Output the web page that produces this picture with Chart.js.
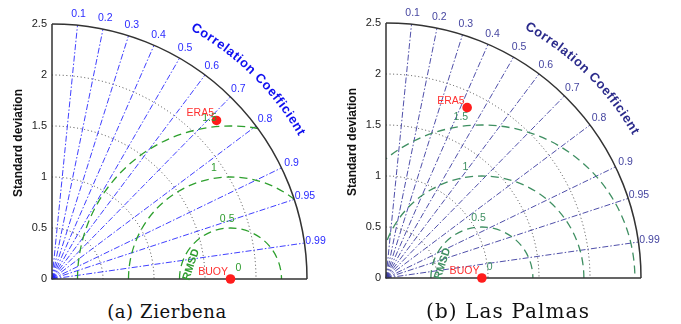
<!DOCTYPE html>
<html>
<head>
<meta charset="utf-8">
<script src="https://cdn.jsdelivr.net/npm/chart.js@4.4.1/dist/chart.umd.min.js"></script>
<style>
  html, body { margin: 0; padding: 0; background: #fff; width: 681px; height: 324px; overflow: hidden; }
  .panel { position: absolute; }
  .cap {
    position: absolute; line-height: 22px;
    font-family: "DejaVu Serif", serif;
    color: #111; white-space: nowrap; transform: translateX(-50%);
  }
  #capA { left: 167px; top: 301px; font-size: 18px; letter-spacing: 0.6px; }
  #capB { left: 508px; top: 300px; font-size: 20px; letter-spacing: 1.1px; }
</style>
</head>
<body>
<div class="panel" style="left:0px;top:0px"><canvas id="zierbena" width="340" height="295"></canvas></div>
<div class="panel" style="left:334px;top:-1px"><canvas id="lasPalmas" width="340" height="295"></canvas></div>
<div class="cap" id="capA"></div>
<div class="cap" id="capB"></div>

<script>
// Taylor diagram inputs: standard deviation and correlation of each source vs. the buoy
const sourceNames = ['BUOY', 'ERA5'];
const zierbenaStd = [1.75, 2.24];
const zierbenaCorr = [1.0, 0.72];
const lasPalmasStd = [0.94, 1.85];
const lasPalmasCorr = [1.0, 0.43];

// Axis / grid levels
const stdTicks = [0, 0.5, 1, 1.5, 2, 2.5];
const stdArcs = [0.5, 1, 1.5, 2];
const corrTicks = [0.1, 0.2, 0.3, 0.4, 0.5, 0.6, 0.7, 0.8, 0.9, 0.95, 0.99];
const rmsdLevels = [0, 0.5, 1, 1.5];
const captions = ['(a) Zierbena', '(b) Las Palmas'];
const STD_MAX = 2.5;

document.getElementById('capA').textContent = captions[0];
document.getElementById('capB').textContent = captions[1];

const SANS = '"Liberation Sans", Arial, sans-serif';

const themes = {
  zierbena: {
    corrLine: 'rgba(30,30,255,0.85)', corrText: '#2b2bff', corrTitle: '#1010f0',
    rmsd: '#2ea02e', rmsdText: '#2e9c2e'
  },
  lasPalmas: {
    corrLine: 'rgba(60,60,160,0.9)', corrText: '#4646a0', corrTitle: '#2c2c8c',
    rmsd: '#3f8f62', rmsdText: '#3f8f62'
  }
};

const rad = d => d * Math.PI / 180;

function polarToXY(std, corr) {
  return { x: std * corr, y: std * Math.sqrt(Math.max(0, 1 - corr * corr)) };
}

function geom(chart) {
  const xs = chart.scales.x, ys = chart.scales.y;
  const ox = xs.getPixelForValue(0), oy = ys.getPixelForValue(0);
  const ppu = (oy - ys.getPixelForValue(STD_MAX)) / STD_MAX;
  const px = (x, y) => [xs.getPixelForValue(x), ys.getPixelForValue(y)];
  return { ox, oy, ppu, R: STD_MAX * ppu, px };
}

// Text laid out letter by letter along an arc, first/last letter centres at a0/a1 (degrees)
function arcText(ctx, text, cx, cy, radius, a0, a1) {
  const chars = [...text];
  const widths = chars.map(ch => ctx.measureText(ch).width);
  const centres = [];
  let acc = 0;
  widths.forEach(w => { centres.push(acc + w / 2); acc += w; });
  const natural = centres[centres.length - 1] - centres[0];
  const target = rad(a0 - a1) * radius;
  const extra = (target - natural) / (chars.length - 1);
  chars.forEach((ch, i) => {
    const s = centres[i] - centres[0] + extra * i;
    const a = rad(a0) - s / radius;
    ctx.save();
    ctx.translate(cx + radius * Math.cos(a), cy - radius * Math.sin(a));
    ctx.rotate(Math.PI / 2 - a);
    ctx.fillText(ch, 0, 0);
    ctx.restore();
  });
}

const taylorGrid = {
  id: 'taylorGrid',
  beforeDatasetsDraw(chart, args, opts) {
    const t = opts.theme;
    const ref = opts.refStd;
    const { ctx } = chart;
    const { ox, oy, ppu, R, px } = geom(chart);
    ctx.save();

    // standard deviation arcs
    ctx.strokeStyle = '#444';
    ctx.lineWidth = 1;
    ctx.setLineDash([1, 2.6]);
    stdArcs.forEach(s => {
      ctx.beginPath();
      ctx.arc(ox, oy, s * ppu, -Math.PI / 2, 0);
      ctx.stroke();
    });

    // correlation rays
    ctx.strokeStyle = t.corrLine;
    ctx.lineWidth = 1;
    ctx.setLineDash([6, 2, 1.5, 2]);
    corrTicks.forEach(c => {
      const p = polarToXY(STD_MAX, c);
      const [ex, ey] = px(p.x, p.y);
      ctx.beginPath();
      ctx.moveTo(ox, oy);
      ctx.lineTo(ex, ey);
      ctx.stroke();
    });
    ctx.setLineDash([]);
    ctx.fillStyle = t.corrLine;
    ctx.beginPath();
    ctx.arc(ox, oy, 3.5, -Math.PI / 2, 0);
    ctx.lineTo(ox, oy);
    ctx.fill();

    // centred RMS difference circles around the reference
    ctx.save();
    ctx.beginPath();
    ctx.moveTo(ox, oy);
    ctx.arc(ox, oy, R, -Math.PI / 2, 0);
    ctx.closePath();
    ctx.clip();
    const [cx] = px(ref, 0);
    ctx.strokeStyle = t.rmsd;
    ctx.lineWidth = 1.3;
    ctx.setLineDash([8, 5]);
    rmsdLevels.filter(r => r > 0).forEach(r => {
      ctx.beginPath();
      ctx.arc(cx, oy, r * ppu, Math.PI, 2 * Math.PI);
      ctx.stroke();
    });
    ctx.restore();

    // outer arc and axes
    ctx.setLineDash([]);
    ctx.strokeStyle = '#333';
    ctx.lineWidth = 1.5;
    ctx.beginPath();
    ctx.moveTo(ox, oy - R);
    ctx.lineTo(ox, oy);
    ctx.lineTo(ox + R, oy);
    ctx.stroke();
    ctx.beginPath();
    ctx.arc(ox, oy, R, -Math.PI / 2, 0);
    ctx.stroke();

    // vertical axis title
    ctx.save();
    ctx.translate(ox - 33.5, oy - R + 119);
    ctx.rotate(-Math.PI / 2);
    ctx.fillStyle = '#111';
    ctx.font = 'bold 12px ' + SANS;
    ctx.textAlign = 'center';
    ctx.textBaseline = 'middle';
    ctx.fillText(opts.axisTitle, 0, 0);
    ctx.restore();
    ctx.restore();
  },
  afterDatasetsDraw(chart, args, opts) {
    const t = opts.theme;
    const ref = opts.refStd;
    const { ctx } = chart;
    const { ox, oy, ppu, px } = geom(chart);
    ctx.save();

    // correlation tick labels
    ctx.fillStyle = t.corrText;
    ctx.font = '10.5px ' + SANS;
    ctx.textAlign = 'center';
    ctx.textBaseline = 'middle';
    corrTicks.forEach(c => {
      const p = polarToXY(2.61, c);
      const [lx, ly] = px(p.x, p.y);
      ctx.fillText(String(c), lx, ly);
    });

    // curved axis title
    ctx.fillStyle = t.corrTitle;
    ctx.font = 'bold 13px ' + SANS;
    arcText(ctx, 'Correlation Coefficient', ox, oy, 2.83 * ppu, 60, 30.5);

    // RMSD level labels
    ctx.fillStyle = t.rmsdText;
    ctx.font = '10.5px ' + SANS;
    ctx.textAlign = 'left';
    rmsdLevels.forEach(r => {
      const ang = r === 0 ? rad(66) : rad(100);
      const rr = r === 0 ? 0.12 : r + 0.1;
      const [lx, ly] = px(ref + rr * Math.cos(ang), rr * Math.sin(ang));
      ctx.fillText(String(r), lx, ly);
    });
    ctx.font = 'bold 11px ' + SANS;
    ctx.textAlign = 'center';
    const [rx, ry] = px(ref + 0.41 * Math.cos(rad(160)), 0.41 * Math.sin(rad(160)));
    ctx.save();
    ctx.translate(rx, ry);
    ctx.rotate(rad(-72));
    ctx.fillText('RMSD', 0, 0);
    ctx.restore();

    // source labels
    ctx.fillStyle = '#ff3030';
    ctx.font = '10.5px ' + SANS;
    ctx.textAlign = 'right';
    const meta = chart.getDatasetMeta(0);
    meta.data.forEach((pt, i) => {
      ctx.fillText(sourceNames[i], pt.x - 2.5, pt.y - 7);
    });
    ctx.restore();
  }
};

function makeTaylor(canvasId, stds, corrs, theme) {
  const points = stds.map((s, i) => polarToXY(s, corrs[i]));
  return new Chart(document.getElementById(canvasId), {
    type: 'scatter',
    data: {
      datasets: [{
        data: points,
        pointRadius: 4.8,
        pointHoverRadius: 4.8,
        backgroundColor: '#ff1c1c',
        borderColor: '#ff1c1c',
        borderWidth: 0,
        clip: false
      }]
    },
    options: {
      responsive: false,
      animation: false,
      events: [],
      layout: { padding: { left: 0, top: 24, right: 33, bottom: 16 } },
      plugins: {
        legend: { display: false },
        tooltip: { enabled: false },
        title: { display: false },
        taylorGrid: { theme: theme, refStd: stds[0], axisTitle: 'Standard deviation' }
      },
      scales: {
        x: { type: 'linear', min: 0, max: STD_MAX, display: false },
        y: {
          type: 'linear', min: 0, max: STD_MAX,
          grid: { display: false, drawTicks: false },
          border: { display: false },
          afterBuildTicks: s => { s.ticks = stdTicks.map(v => ({ value: v })); },
          afterFit: s => { s.width = 52; },
          ticks: {
            padding: 5,
            color: '#222',
            font: { family: SANS, size: 11 },
            callback: v => String(v)
          },
          title: { display: false }
        }
      }
    },
    plugins: [taylorGrid]
  });
}

makeTaylor('zierbena', zierbenaStd, zierbenaCorr, themes.zierbena);
makeTaylor('lasPalmas', lasPalmasStd, lasPalmasCorr, themes.lasPalmas);
</script>
</body>
</html>
